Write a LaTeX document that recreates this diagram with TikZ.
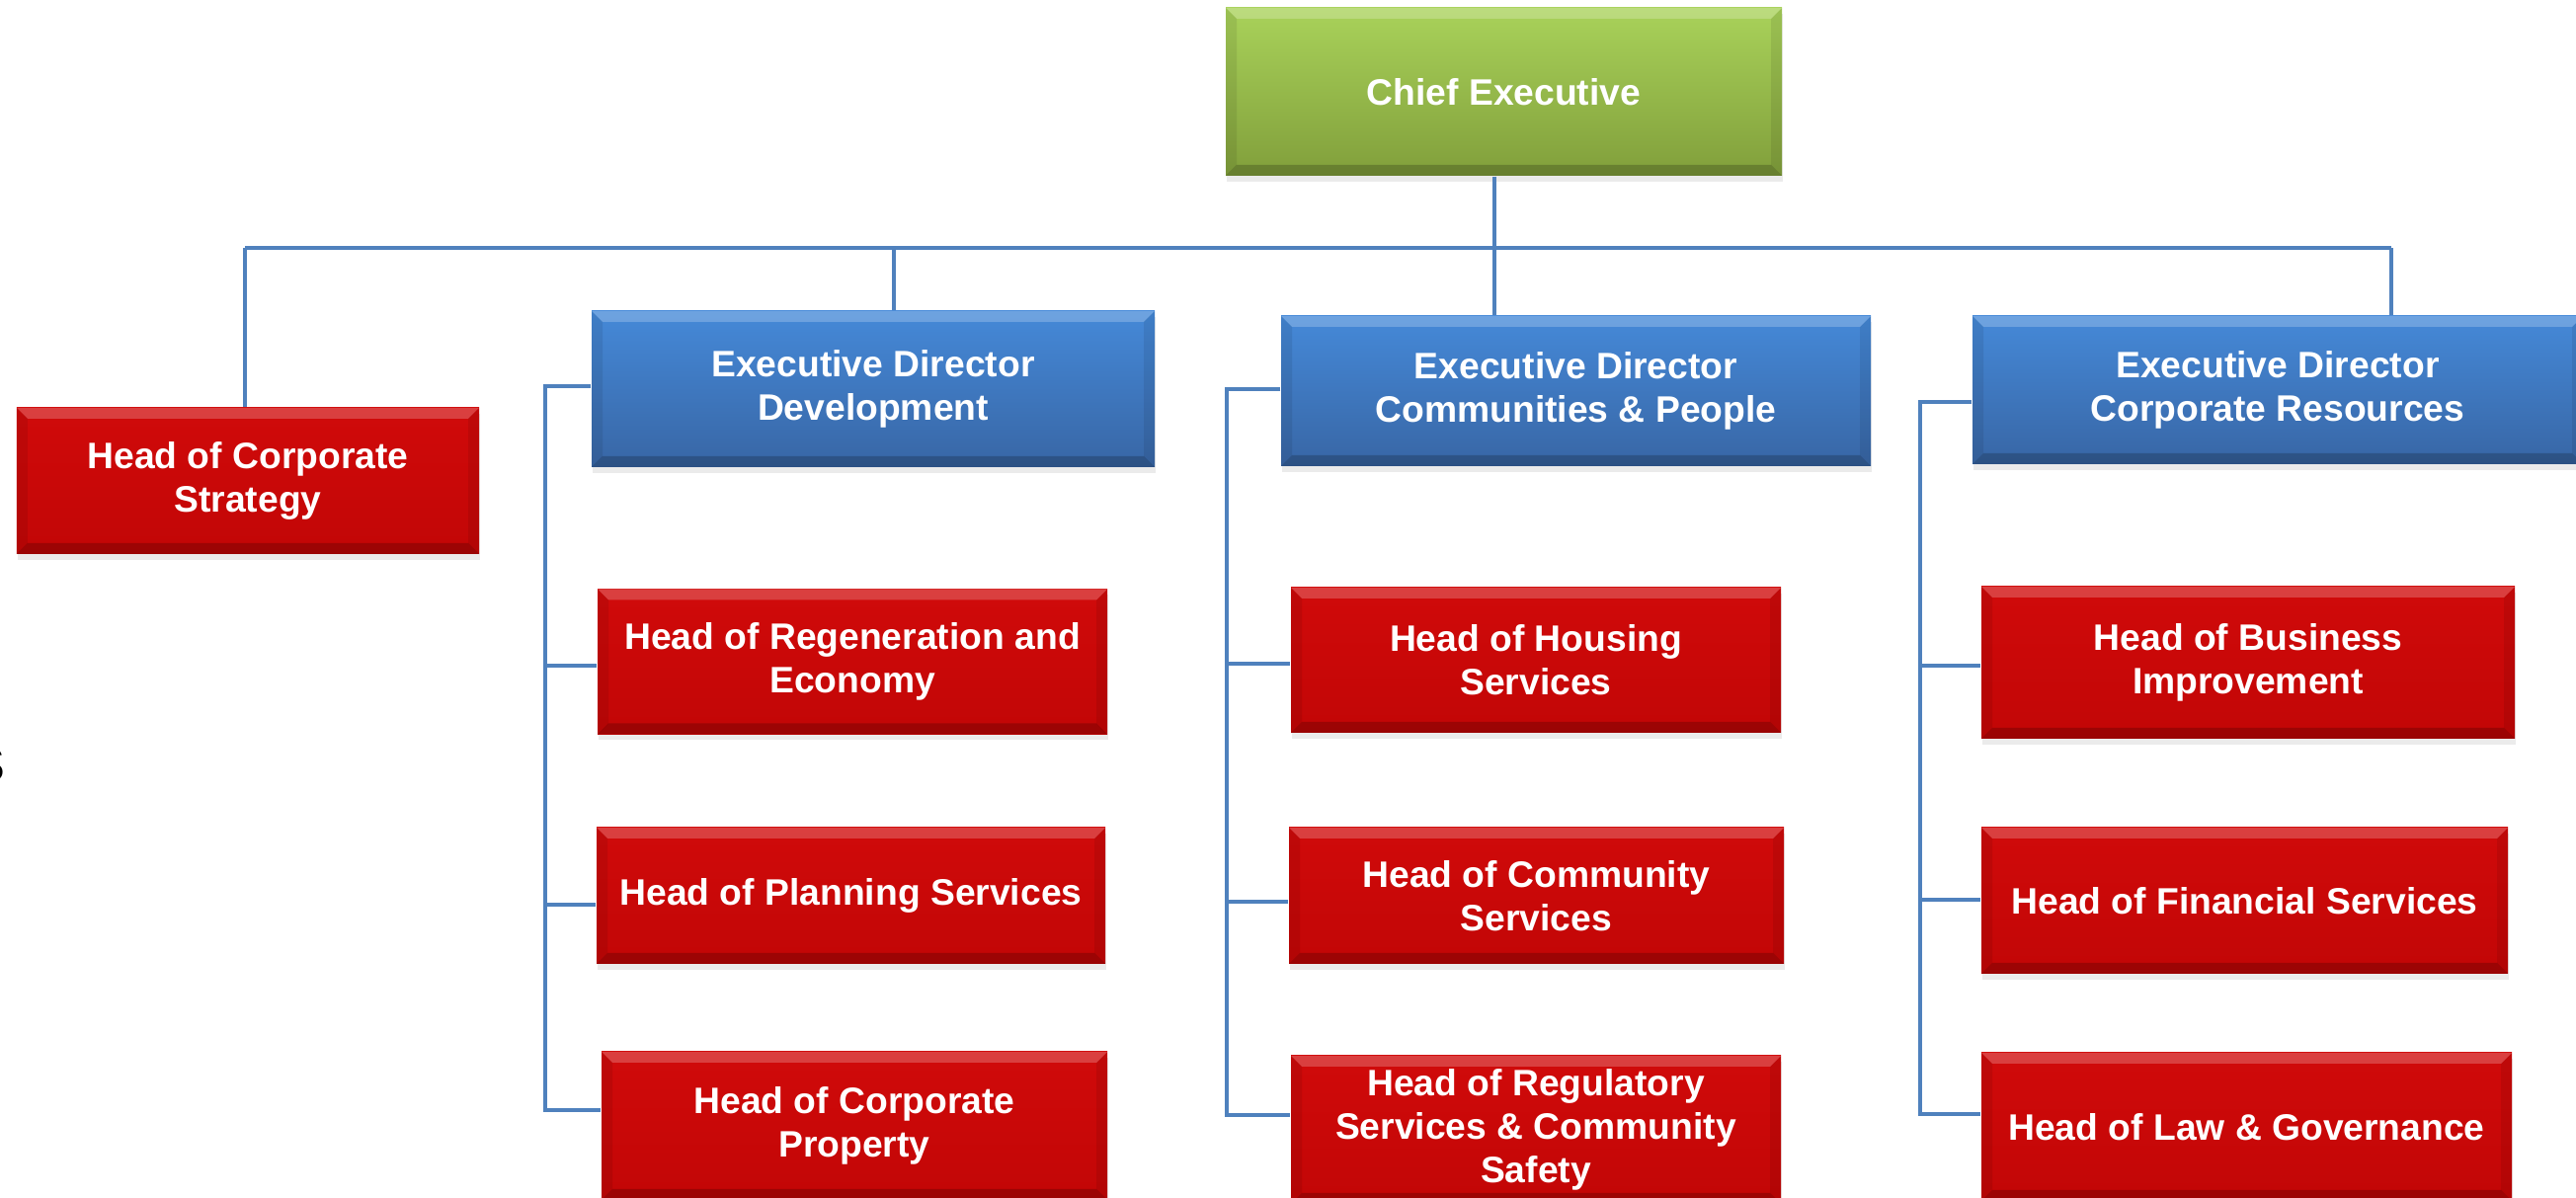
\documentclass[tikz,border=0pt]{standalone}
\usepackage{fontspec}
\setmainfont{Liberation Sans}
\usetikzlibrary{shadows}

\definecolor{ceotop}{HTML}{A9D25A}
\definecolor{ceobot}{HTML}{819F3B}
\definecolor{dirtop}{HTML}{4589D8}
\definecolor{dirbot}{HTML}{3866A5}
\definecolor{headtop}{HTML}{D00A0A}
\definecolor{headbot}{HTML}{C20606}
\definecolor{linkblue}{HTML}{4F81BD}

\newcommand{\bevelw}{0.11}

\tikzset{
  bevel/.style={path picture={
      \path (path picture bounding box.north west) coordinate (pNW)
            (path picture bounding box.north east) coordinate (pNE)
            (path picture bounding box.south west) coordinate (pSW)
            (path picture bounding box.south east) coordinate (pSE);
      \fill[white, opacity=.22] (pNW) -- (pNE) -- ([shift={(-\bevelw,-\bevelw)}]pNE)
            -- ([shift={(\bevelw,-\bevelw)}]pNW) -- cycle;
      \fill[black, opacity=.20] (pSW) -- (pSE) -- ([shift={(-\bevelw,\bevelw)}]pSE)
            -- ([shift={(\bevelw,\bevelw)}]pSW) -- cycle;
      \fill[black, opacity=.08] (pNW) -- ([shift={(\bevelw,-\bevelw)}]pNW)
            -- ([shift={(\bevelw,\bevelw)}]pSW) -- (pSW) -- cycle;
      \fill[black, opacity=.08] (pNE) -- ([shift={(-\bevelw,-\bevelw)}]pNE)
            -- ([shift={(-\bevelw,\bevelw)}]pSE) -- (pSE) -- cycle;
    }},
  box/.style={rectangle, inner sep=2pt, align=center, text=white,
    font=\fontsize{10.6}{12.6}\selectfont\bfseries,
    drop shadow={shadow xshift=0.4pt, shadow yshift=-1.6pt, opacity=.16},
    bevel},
  ceo/.style={box, top color=ceotop, bottom color=ceobot},
  director/.style={box, top color=dirtop, bottom color=dirbot},
  head/.style={box, top color=headtop, bottom color=headbot},
  link/.style={draw=linkblue, line width=1.1pt},
}

\begin{document}
\begin{tikzpicture}
    \useasboundingbox (0,0) rectangle (26.08,-12.13);

    % top level
    \node[ceo, minimum width=5.63cm, minimum height=1.70cm] (chief) at (15.225,-0.93) {Chief Executive};

    \node[head, minimum width=4.68cm, minimum height=1.48cm] (strategy) at (2.51,-4.87) {Head of Corporate\\Strategy};

    % directors
    \node[director, minimum width=5.70cm, minimum height=1.58cm] (devdir) at (8.84,-3.94) {Executive Director\\Development};
    \node[director, minimum width=5.97cm, minimum height=1.52cm] (commdir) at (15.955,-3.96) {Executive Director\\Communities \& People};
    \node[director, minimum width=6.18cm, minimum height=1.50cm] (corpdir) at (23.06,-3.95) {Executive Director\\Corporate Resources};

    % development
    \node[head, minimum width=5.16cm, minimum height=1.47cm] (regen) at (8.63,-6.70) {Head of Regeneration and\\Economy};
    \node[head, minimum width=5.15cm, minimum height=1.38cm] (planning) at (8.615,-9.07) {Head of Planning Services};
    \node[head, minimum width=5.12cm, minimum height=1.50cm] (property) at (8.65,-11.40) {Head of Corporate\\Property};

    % communities and people
    \node[head, minimum width=4.96cm, minimum height=1.47cm] (housing) at (15.55,-6.685) {Head of Housing\\Services};
    \node[head, minimum width=5.01cm, minimum height=1.38cm] (community) at (15.555,-9.07) {Head of Community\\Services};
    \node[head, minimum width=4.96cm, minimum height=1.50cm] (regulatory) at (15.55,-11.44) {Head of Regulatory\\Services \& Community\\Safety};

    % corporate resources
    \node[head, minimum width=5.40cm, minimum height=1.54cm] (business) at (22.76,-6.71) {Head of Business\\Improvement};
    \node[head, minimum width=5.33cm, minimum height=1.48cm] (finance) at (22.725,-9.12) {Head of Financial Services};
    \node[head, minimum width=5.37cm, minimum height=1.50cm] (law) at (22.745,-11.41) {Head of Law \& Governance};

    % cut-off letter at the left edge
    \node[font=\fontsize{14}{16}\selectfont, anchor=east, inner sep=0pt] (edgemark) at (0.06,-7.75) {S};

    % bus under the chief executive
    \coordinate (busS) at (2.48,-2.51);
    \coordinate (busD) at (9.05,-2.51);
    \coordinate (busC) at (15.13,-2.51);
    \coordinate (busR) at (24.21,-2.51);

    \draw[link] (busS) -- (busR);
    \draw[link] (chief.south -| busC) -- (busC |- commdir.north);
    \draw[link] (busS) -- (busS |- strategy.north);
    \draw[link] (busD) -- (busD |- devdir.north);
    \draw[link] (busR) -- (busR |- corpdir.north);

    % development bracket
    \coordinate (devtop) at (5.52,-3.91);
    \coordinate (dev1) at (5.52,-6.74);
    \coordinate (dev2) at (5.52,-9.16);
    \coordinate (dev3) at (5.52,-11.24);
    \draw[link] (devdir.west |- devtop) -- (devtop) -- (dev3) -- (dev3 -| property.west);
    \draw[link] (dev1) -- (dev1 -| regen.west);
    \draw[link] (dev2) -- (dev2 -| planning.west);

    % communities bracket
    \coordinate (commtop) at (12.42,-3.94);
    \coordinate (comm1) at (12.42,-6.72);
    \coordinate (comm2) at (12.42,-9.13);
    \coordinate (comm3) at (12.42,-11.29);
    \draw[link] (commdir.west |- commtop) -- (commtop) -- (comm3) -- (comm3 -| regulatory.west);
    \draw[link] (comm1) -- (comm1 -| housing.west);
    \draw[link] (comm2) -- (comm2 -| community.west);

    % corporate resources bracket
    \coordinate (corptop) at (19.44,-4.07);
    \coordinate (corp1) at (19.44,-6.74);
    \coordinate (corp2) at (19.44,-9.11);
    \coordinate (corp3) at (19.44,-11.28);
    \draw[link] (corpdir.west |- corptop) -- (corptop) -- (corp3) -- (corp3 -| law.west);
    \draw[link] (corp1) -- (corp1 -| business.west);
    \draw[link] (corp2) -- (corp2 -| finance.west);
\end{tikzpicture}
\end{document}
